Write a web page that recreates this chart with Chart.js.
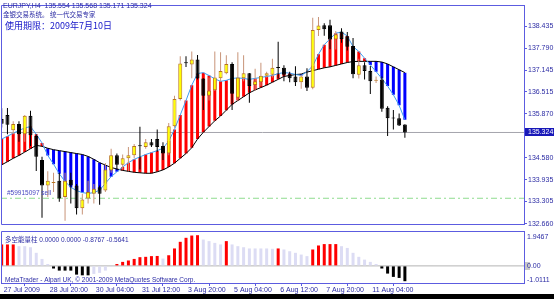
<!DOCTYPE html>
<html lang="zh">
<head>
<meta charset="UTF-8">
<title>EURJPY,H4</title>
<style>
  html, body { margin: 0; padding: 0; background: #fff; }
  #wrap { position: relative; width: 554px; height: 299px; overflow: hidden; background: #fff; }
  #priceBox { position: absolute; left: 0; top: 0; width: 554px; height: 230px; }
  #histBox { position: absolute; left: 0; top: 230px; width: 554px; height: 64px; }
  #strip { position: absolute; left: 0; top: 294px; width: 554px; height: 5px; background: #000; }
</style>
</head>
<body>
<div id="wrap">
  <div id="priceBox"><canvas id="priceChart"></canvas></div>
  <div id="histBox"><canvas id="histChart"></canvas></div>
  <div id="strip"></div>
</div>

<script src="https://cdn.jsdelivr.net/npm/chart.js"></script>
<script>
    // ---- values (EURJPY H4, one entry per bar) ----
    const priceTicks = [132.660, 133.305, 133.935, 134.580, 135.870, 136.515, 137.145, 137.790, 138.435];
    const timeTickBars = [0, 8, 16, 24, 32, 40, 48, 56, 64];
    const timeLabels = ['27 Jul 2009', '28 Jul 20:00', '30 Jul 04:00', '31 Jul 12:00', '3 Aug 20:00',
                        '5 Aug 04:00', '6 Aug 12:00', '7 Aug 20:00', '11 Aug 04:00'];

    const openP = [135.72, 135.835, 135.39, 135.57, 135.27, 135.81, 135.22, 134.52, 133.77, 133.85,
                   133.91, 133.44, 133.94, 133.77, 133.11, 133.39, 133.535, 133.72, 133.63, 134.21,
                   134.66, 134.38, 134.57, 134.66, 134.93, 134.90, 135.04, 135.13, 134.925, 134.71,
                   135.505, 136.305, 137.37, 137.31, 137.46, 136.90, 136.40, 136.56, 136.91, 137.055,
                   137.33, 136.34, 136.91, 137.055, 136.71, 136.79, 136.98, 137.01, 137.22, 137.215,
                   137.03, 136.96, 136.79, 136.96, 136.63, 138.32, 138.46, 138.46, 138.04, 138.28,
                   138.14, 137.855, 137.01, 137.29, 137.12, 136.835, 136.87, 136.05, 135.74, 135.74,
                   135.554];
    const highP = [136.03, 136.04, 135.65, 135.65, 135.835, 135.96, 135.27, 134.615, 134.19, 134.145,
                   134.145, 134.145, 134.145, 133.815, 133.53, 133.91, 133.815, 133.77, 134.43, 134.85,
                   134.71, 134.68, 134.90, 134.99, 135.49, 135.13, 135.13, 135.41, 135.04, 135.60,
                   136.40, 137.55, 137.55, 137.69, 137.59, 136.91, 136.93, 137.69, 137.67, 137.58,
                   137.38, 137.67, 137.58, 137.06, 137.19, 137.36, 137.10, 137.48, 137.98, 137.29,
                   137.10, 137.26, 137.01, 137.20, 138.68, 138.70, 138.52, 138.62, 138.29, 138.37,
                   138.26, 138.09, 137.48, 137.38, 137.27, 136.96, 136.96, 136.09, 135.98, 135.88,
                   135.568];
    const lowP = [135.47, 135.27, 135.27, 135.05, 135.05, 134.93, 134.20, 132.83, 133.44, 133.58,
                  133.30, 132.74, 133.25, 132.925, 132.925, 133.25, 133.25, 133.21, 133.58, 134.145,
                  134.24, 134.24, 134.20, 134.57, 134.24, 134.85, 134.90, 134.76, 134.52, 134.66,
                  135.46, 136.26, 137.24, 136.91, 136.87, 135.98, 136.26, 136.54, 136.82, 137.03,
                  135.98, 136.26, 136.82, 136.19, 136.54, 136.68, 136.93, 136.93, 136.91, 136.82,
                  136.79, 136.68, 136.60, 136.54, 136.59, 138.145, 138.15, 137.76, 137.75, 137.95,
                  137.72, 136.91, 136.90, 136.87, 136.45, 136.77, 135.93, 135.22, 135.41, 135.51,
                  135.171];
    const closeP = [135.58, 135.55, 135.57, 135.27, 135.81, 135.24, 134.615, 133.77, 133.91, 133.86,
                    133.39, 133.91, 133.77, 133.11, 133.365, 133.58, 133.675, 133.53, 134.24, 134.66,
                    134.38, 134.57, 134.66, 134.925, 134.92, 135.04, 134.94, 134.90, 134.71, 135.505,
                    136.305, 137.34, 137.35, 137.46, 136.90, 136.40, 136.55, 136.93, 137.12, 137.33,
                    136.46, 136.93, 137.055, 136.68, 136.82, 136.98, 137.055, 137.215, 137.21, 137.01,
                    136.91, 136.79, 136.96, 136.63, 138.32, 138.45, 138.34, 138.04, 138.20, 138.06,
                    137.83, 137.03, 137.29, 137.12, 136.82, 136.84, 136.02, 135.74, 135.73, 135.525,
                    135.324];

    // fast (light blue) and slow (black) averages, the coloured bars fill the gap between them
    const fastMA = [135.131, 135.215, 135.300, 135.384, 135.455, 135.497, 135.272, 135.018, 134.652, 134.398,
                    134.117, 133.891, 133.722, 133.624, 133.567, 133.539, 133.567, 133.638, 133.835, 134.032,
                    134.173, 134.314, 134.441, 134.539, 134.610, 134.680, 134.736, 134.793, 134.863, 135.074,
                    135.412, 135.836, 136.258, 136.708, 137.046, 137.074, 136.990, 136.891, 136.821, 136.849,
                    136.905, 136.919, 136.905, 136.877, 136.905, 136.934, 136.962, 136.990, 137.046, 137.074,
                    137.060, 137.020, 136.990, 137.103, 137.272, 137.610, 137.891, 138.060, 138.229, 138.258,
                    138.145, 137.835, 137.694, 137.497, 137.300, 137.103, 136.905, 136.680, 136.426, 136.117,
                    135.695];
    const slowMA = [134.379, 134.469, 134.568, 134.652, 134.750, 134.849, 134.948, 134.919, 134.863, 134.821,
                    134.793, 134.765, 134.736, 134.708, 134.680, 134.624, 134.539, 134.441, 134.370, 134.300,
                    134.257, 134.215, 134.187, 134.159, 134.145, 134.131, 134.131, 134.173, 134.229, 134.314,
                    134.427, 134.568, 134.708, 134.877, 135.131, 135.328, 135.497, 135.666, 135.807, 135.977,
                    136.145, 136.258, 136.370, 136.483, 136.567, 136.638, 136.708, 136.793, 136.877, 136.962,
                    136.990, 137.018, 137.032, 137.089, 137.131, 137.173, 137.215, 137.243, 137.286, 137.328,
                    137.370, 137.398, 137.404, 137.404, 137.404, 137.404, 137.384, 137.328, 137.243, 137.159,
                    137.074];

    // lower window histogram
    const histVals = [1.23, 1.23, 1.23, 1.13, 1.13, 1.07, 0.75, 0.40, 0.11, -0.15,
                      -0.27, -0.27, -0.27, -0.50, -0.54, -0.54, -0.46, -0.40, -0.27, -0.05,
                      0.11, 0.23, 0.31, 0.40, 0.50, 0.52, 0.56, 0.57, 0.42, 0.61,
                      1.00, 1.38, 1.61, 1.74, 1.76, 1.51, 1.42, 1.32, 1.23, 1.42,
                      1.23, 1.13, 1.07, 1.00, 1.00, 1.00, 1.00, 0.98, 1.00, 0.94,
                      0.84, 0.75, 0.65, 0.56, 0.94, 1.17, 1.25, 1.25, 1.25, 1.13,
                      1.03, 0.75, 0.52, 0.36, 0.23, 0.11, -0.15, -0.44, -0.63, -0.69,
                      -0.8767];

    const bidPrice = 135.324;
    const orderPrice = 133.40;

    const symbolLine = 'EURJPY,H4  135.554 135.568 135.171 135.324';
    const expertLine = '金银交易系统。 统一代交易专家';
    const expiryLine = '使用期限：2009年7月10日';
    const orderLabel = '#59915097 sell';
    const histTitle = '多空能量柱 0.0000 0.0000 -0.8767 -0.5641';
    const copyright = 'MetaTrader - Alpari UK, © 2001-2009 MetaQuotes Software Corp.';
    const histMaxLabel = '1.9467';
    const histMinLabel = '-1.0111';

    // ---- look ----
    const FRAME = '#5c5ce0';
    const TEXT = '#2c2ca4';
    const X_MIN = -0.12, X_MAX = 90.68;   // keeps the empty shift area on the right like MT4

    Chart.defaults.font.family = '"Liberation Sans", Arial, sans-serif';
    Chart.defaults.color = TEXT;

    const bars = openP.map((_, i) => i);
    const bull = bars.map(i => closeP[i] >= openP[i]);

    // colour of each histogram bar follows its direction
    const histColors = [];
    histVals.forEach((v, i) => {
        if (i === 0) { histColors.push('#ff0000'); return; }
        const p = histVals[i - 1];
        if (v === p) { histColors.push(histColors[i - 1]); return; }
        if (v >= 0) histColors.push(v > p ? '#ff0000' : '#dcdcf4');
        else histColors.push(v < p ? '#000000' : '#dcdcf4');
    });

    // draws the blue frame round a plot window
    const framePlugin = {
        id: 'mtFrame',
        afterDraw(chart) {
            const { ctx, chartArea: a } = chart;
            const l = Math.floor(a.left) + 0.5, r = Math.floor(a.right) + 0.5;
            const t = Math.floor(a.top) + 0.5, b = Math.floor(a.bottom) + 0.5;
            ctx.save();
            ctx.strokeStyle = FRAME;
            ctx.lineWidth = 1;
            ctx.beginPath();
            ctx.moveTo(l, b); ctx.lineTo(l, t); ctx.lineTo(r, t); ctx.lineTo(r, b); ctx.lineTo(l, b);
            ctx.stroke();
            ctx.restore();
        }
    };

    const priceText = {
        id: 'priceText',
        afterDraw(chart) {
            const { ctx, scales } = chart;
            ctx.save();
            ctx.textBaseline = 'middle';
            ctx.fillStyle = TEXT;
            ctx.font = '7px "Liberation Sans"';
            ctx.fillText(symbolLine, 3, 6);
            ctx.font = '6.5px "Noto Sans CJK SC"';
            ctx.fillText(expertLine, 3, 15);
            ctx.fillStyle = '#1414c8';
            ctx.font = '9px "Noto Sans CJK SC"';
            ctx.fillText(expiryLine, 5, 26);

            const yo = scales.y.getPixelForValue(orderPrice);
            ctx.fillStyle = '#4848c0';
            ctx.font = '6.5px "Liberation Sans"';
            ctx.fillText(orderLabel, 7, yo - 5);

            const yb = scales.y.getPixelForValue(bidPrice);
            ctx.fillStyle = '#1818b8';
            ctx.fillRect(525, Math.round(yb) - 4, 29, 8);
            ctx.fillStyle = '#ffffff';
            ctx.font = '7px "Liberation Sans"';
            ctx.fillText(bidPrice.toFixed(3), 528, yb);
            ctx.restore();
        }
    };

    const histText = {
        id: 'histText',
        afterDraw(chart) {
            const { ctx, scales, chartArea } = chart;
            ctx.save();
            ctx.textBaseline = 'middle';
            ctx.fillStyle = TEXT;
            ctx.font = '6.5px "Liberation Sans", "Noto Sans CJK SC"';
            ctx.fillText(histTitle, 5, 10);
            ctx.fillText(copyright, 5, 50);

            ctx.font = '7px "Liberation Sans"';
            const x = chartArea.right + 3;
            ctx.fillText(histMaxLabel, x, chartArea.top + 6);
            ctx.fillText(histMinLabel, x, chartArea.bottom - 3);
            const y0 = scales.y.getPixelForValue(0);
            ctx.fillStyle = '#c8c8c8';
            ctx.fillRect(chartArea.right + 1, Math.round(y0) - 4, 5, 8);
            ctx.fillStyle = TEXT;
            ctx.fillText('0.00', x, y0);
            ctx.restore();
        }
    };

    const flatLine = (v) => [{ x: X_MIN, y: v }, { x: X_MAX, y: v }];

    new Chart(document.getElementById('priceChart'), {
        type: 'bar',
        data: {
            datasets: [
                {
                    // body of each candle
                    data: bars.map(i => ({ x: i, y: [openP[i], closeP[i]] })),
                    backgroundColor: bars.map(i => bull[i] ? '#ffff00' : '#000000'),
                    borderColor: bars.map(i => bull[i] ? '#b8741c' : '#000000'),
                    borderWidth: 1,
                    borderSkipped: false,
                    minBarLength: 1,
                    maxBarThickness: 4,
                    grouped: false,
                    order: 1
                },
                {
                    // high-low wick
                    data: bars.map(i => ({ x: i, y: [lowP[i], highP[i]] })),
                    backgroundColor: bars.map(i => bull[i] ? '#c89478' : '#000000'),
                    borderWidth: 0,
                    maxBarThickness: 1,
                    grouped: false,
                    order: 2
                },
                {
                    type: 'line',
                    data: bars.map(i => ({ x: i, y: fastMA[i] })),
                    borderColor: '#3d9df2',
                    borderWidth: 1,
                    pointRadius: 0,
                    order: 3
                },
                {
                    type: 'line',
                    data: bars.map(i => ({ x: i, y: slowMA[i] })),
                    borderColor: '#000000',
                    borderWidth: 1,
                    pointRadius: 0,
                    order: 3
                },
                {
                    // band between the two averages
                    data: bars.map(i => ({ x: i, y: [slowMA[i], fastMA[i]] })),
                    backgroundColor: bars.map(i => fastMA[i] >= slowMA[i] ? '#ff0000' : '#0000ff'),
                    borderWidth: 0,
                    maxBarThickness: 3,
                    grouped: false,
                    order: 5
                },
                {
                    type: 'line',
                    data: flatLine(bidPrice),
                    borderColor: '#a4a4ac',
                    borderWidth: 1,
                    pointRadius: 0,
                    order: 6
                },
                {
                    type: 'line',
                    data: flatLine(orderPrice),
                    borderColor: '#8fdc8f',
                    borderWidth: 1,
                    borderDash: [6, 3, 2, 3],
                    pointRadius: 0,
                    order: 6
                }
            ]
        },
        options: {
            responsive: true,
            maintainAspectRatio: false,
            animation: false,
            events: [],
            layout: { padding: { left: 1, top: 1, bottom: 1, right: 0 } },
            plugins: { legend: { display: false }, tooltip: { enabled: false } },
            scales: {
                x: {
                    type: 'linear',
                    display: false,
                    offset: false,
                    min: X_MIN,
                    max: X_MAX
                },
                y: {
                    position: 'right',
                    min: 132.624,
                    max: 139.046,
                    beginAtZero: false,
                    bounds: 'data',
                    afterBuildTicks: (scale) => { scale.ticks = priceTicks.map(v => ({ value: v })); },
                    afterFit: (scale) => { scale.width = 30; },
                    grid: { drawOnChartArea: false, color: FRAME, tickLength: 3 },
                    border: { color: FRAME },
                    ticks: {
                        padding: 1,
                        font: { size: 7 },
                        color: TEXT,
                        autoSkip: false,
                        callback: (v) => Number(v).toFixed(3)
                    }
                }
            }
        },
        plugins: [framePlugin, priceText]
    });

    new Chart(document.getElementById('histChart'), {
        type: 'bar',
        data: {
            datasets: [
                {
                    data: bars.map(i => ({ x: i, y: histVals[i] })),
                    backgroundColor: histColors,
                    borderWidth: 0,
                    maxBarThickness: 3,
                    grouped: false,
                    order: 1
                },
                {
                    type: 'line',
                    data: flatLine(0),
                    borderColor: '#b4b4b4',
                    borderWidth: 1,
                    pointRadius: 0,
                    order: 2
                }
            ]
        },
        options: {
            responsive: true,
            maintainAspectRatio: false,
            animation: false,
            events: [],
            layout: { padding: { left: 1, top: 1, bottom: 0, right: 0 } },
            plugins: { legend: { display: false }, tooltip: { enabled: false } },
            scales: {
                x: {
                    type: 'linear',
                    offset: false,
                    min: X_MIN,
                    max: X_MAX,
                    afterBuildTicks: (scale) => { scale.ticks = timeTickBars.map(v => ({ value: v })); },
                    afterFit: (scale) => { scale.height = 11; },
                    grid: { drawOnChartArea: false, color: FRAME, tickLength: 3 },
                    border: { color: FRAME },
                    ticks: {
                        align: 'start',
                        labelOffset: 2,
                        padding: 0,
                        maxRotation: 0,
                        autoSkip: false,
                        font: { size: 7 },
                        color: TEXT,
                        callback: (v) => timeLabels[timeTickBars.indexOf(v)]
                    }
                },
                y: {
                    position: 'right',
                    min: -0.98,
                    max: 2.0,
                    beginAtZero: false,
                    afterFit: (scale) => { scale.width = 30; },
                    grid: { drawOnChartArea: false, drawTicks: false },
                    border: { color: FRAME },
                    ticks: { display: false }
                }
            }
        },
        plugins: [framePlugin, histText]
    });
</script>
</body>
</html>
